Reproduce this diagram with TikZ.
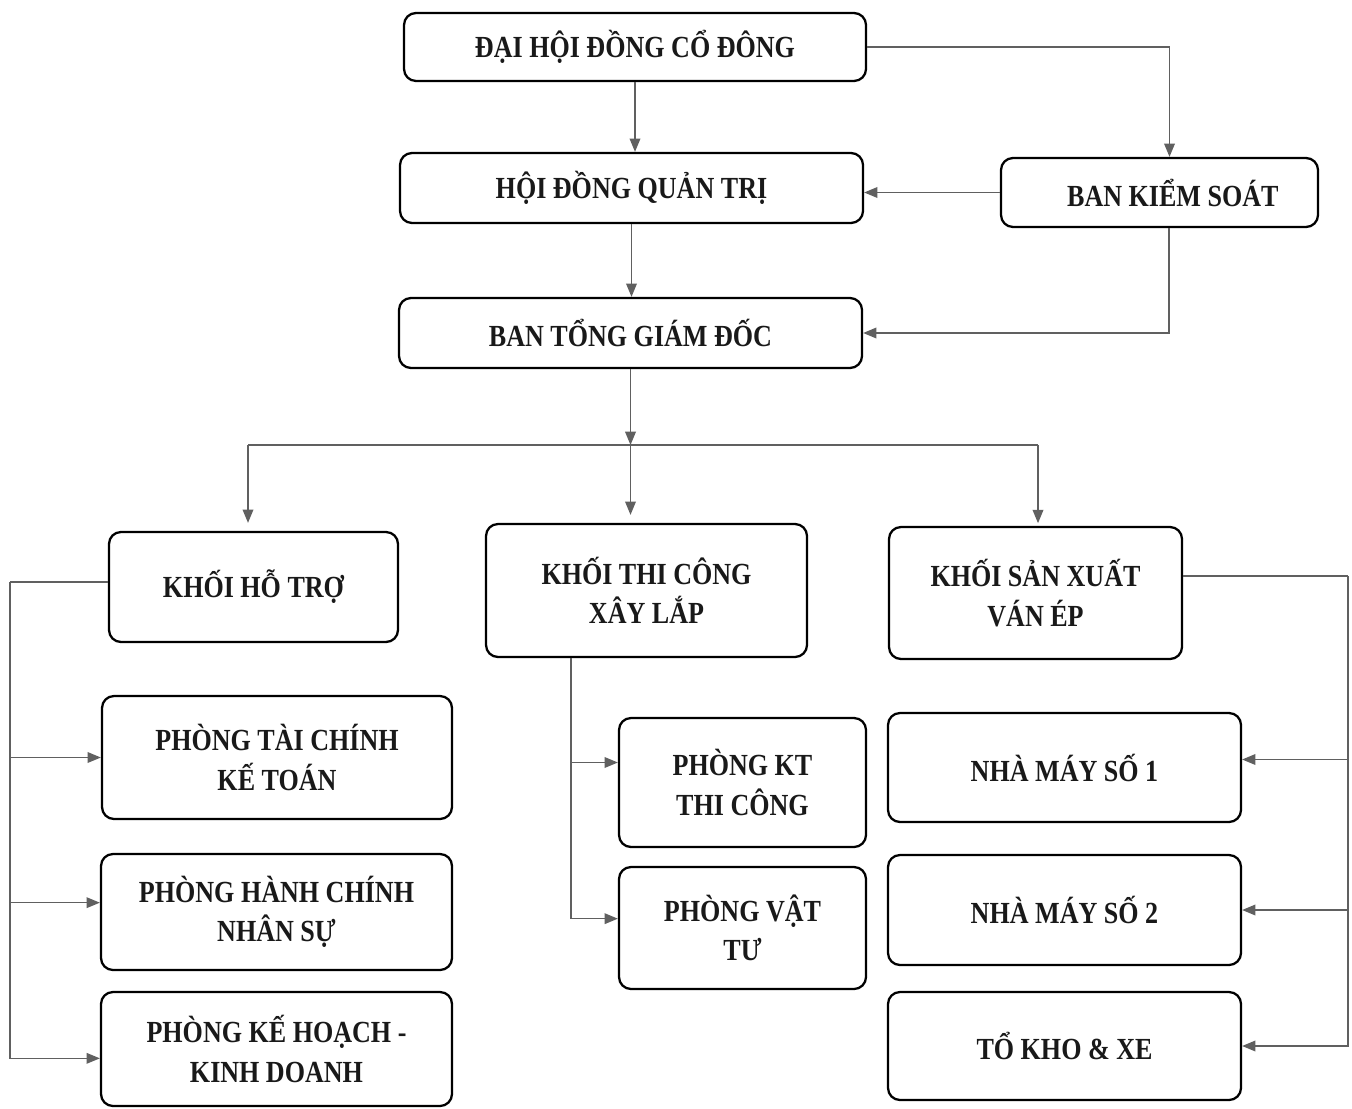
\documentclass[tikz,border=0pt]{standalone}
\usepackage{fontspec}
\setmainfont{Liberation Serif}[FakeStretch=0.85]
\usetikzlibrary{arrows.meta}
\begin{document}
\begin{tikzpicture}[x=0.75pt,y=-0.75pt,
  box/.style={draw=black, line width=1.7pt, rounded corners=9pt, align=center,
    font=\bfseries\fontsize{23}{29.5}\selectfont, inner sep=0pt, text=black!90},
  conn/.style={draw=gray!75!black, line width=1.1pt, -{Triangle[length=10pt,width=8pt]}},
  plain/.style={draw=gray!75!black, line width=1.1pt}]
\useasboundingbox[fill=white] (0,0) rectangle (1352,1109);
% top level
\node[box, minimum width=462*0.75pt, minimum height=68*0.75pt] (dh) at (635,47) {ĐẠI HỘI ĐỒNG CỔ ĐÔNG};
\node[box, minimum width=463*0.75pt, minimum height=70*0.75pt] (hd) at (631.5,188) {HỘI ĐỒNG QUẢN TRỊ};
\node[box, minimum width=317*0.75pt, minimum height=69*0.75pt] (bks) at (1159.5,192.5) {\hspace*{20pt}BAN KIỂM SOÁT};
\node[box, minimum width=463*0.75pt, minimum height=70*0.75pt] (tgd) at (630.5,333) {BAN TỔNG GIÁM ĐỐC};
% blocks
\node[box, minimum width=289*0.75pt, minimum height=110*0.75pt] (kht) at (253.5,587) {KHỐI HỖ TRỢ};
\node[box, minimum width=321*0.75pt, minimum height=133*0.75pt] (ktc) at (646.5,590.5) {KHỐI THI CÔNG\\XÂY LẮP};
\node[box, minimum width=293*0.75pt, minimum height=132*0.75pt] (ksx) at (1035.5,593) {KHỐI SẢN XUẤT\\VÁN ÉP};
% left column
\node[box, minimum width=350*0.75pt, minimum height=123*0.75pt] (ptc) at (277,757.5) {PHÒNG TÀI CHÍNH\\KẾ TOÁN};
\node[box, minimum width=351*0.75pt, minimum height=116*0.75pt] (phc) at (276.5,912) {PHÒNG HÀNH CHÍNH\\NHÂN SỰ};
\node[box, minimum width=351*0.75pt, minimum height=114*0.75pt] (pkh) at (276.5,1049) {PHÒNG KẾ HOẠCH -\\KINH DOANH};
% middle column
\node[box, minimum width=247*0.75pt, minimum height=129*0.75pt] (pkt) at (742.5,782.5) {PHÒNG KT\\THI CÔNG};
\node[box, minimum width=247*0.75pt, minimum height=122*0.75pt] (pvt) at (742.5,928) {PHÒNG VẬT\\TƯ};
% right column
\node[box, minimum width=353*0.75pt, minimum height=109*0.75pt] (nm1) at (1064.5,767.5) {NHÀ MÁY SỐ 1};
\node[box, minimum width=353*0.75pt, minimum height=110*0.75pt] (nm2) at (1064.5,910) {NHÀ MÁY SỐ 2};
\node[box, minimum width=353*0.75pt, minimum height=108*0.75pt] (tk) at (1064.5,1046) {TỔ KHO \& XE};
% connectors top
\draw[conn] (dh.south) -- (dh.south |- hd.north);
\draw[conn] (dh.east) -| ([xshift=7.5pt]bks.north);
\draw[conn] (bks.west) -- (bks.west -| hd.east);
\draw[conn] (hd.south) -- (hd.south |- tgd.north);
\draw[conn] ([xshift=7pt]bks.south) |- (tgd.east);
% distribution
\coordinate (j) at (tgd.south |- 0,445);
\coordinate (jl) at (248,445);
\coordinate (jr) at (1038,445);
\draw[conn] (tgd.south) -- (j);
\draw[plain] (jl) -- (jr);
\draw[conn, shorten >=6pt] (jl) -- (jl |- kht.north);
\draw[conn, shorten >=6pt] (j) -- (j |- ktc.north);
\draw[conn, shorten >=2pt] (jr) -- (jr |- ksx.north);
% left bus
\coordinate (lt) at (10,582);
\draw[plain] (lt -| kht.west) -- (lt);
\draw[conn] (lt) |- ([yshift=-7pt]pkh.west);
\draw[conn] (ptc.west -| lt) -- (ptc.west);
\draw[conn] ([yshift=7pt]phc.west -| lt) -- ([yshift=7pt]phc.west);
% middle bus
\coordinate (mt) at (571,0);
\draw[conn] (ktc.south -| mt) |- ([yshift=7pt]pvt.west);
\draw[conn] ([yshift=15pt]pkt.west -| mt) -- ([yshift=15pt]pkt.west);
% right bus
\coordinate (rt) at (1348,576);
\draw[plain] (rt -| ksx.east) -- (rt);
\draw[conn] (rt) |- (tk.east);
\draw[conn] ([yshift=6pt]nm1.east -| rt) -- ([yshift=6pt]nm1.east);
\draw[conn] (nm2.east -| rt) -- (nm2.east);
\end{tikzpicture}
\end{document}
